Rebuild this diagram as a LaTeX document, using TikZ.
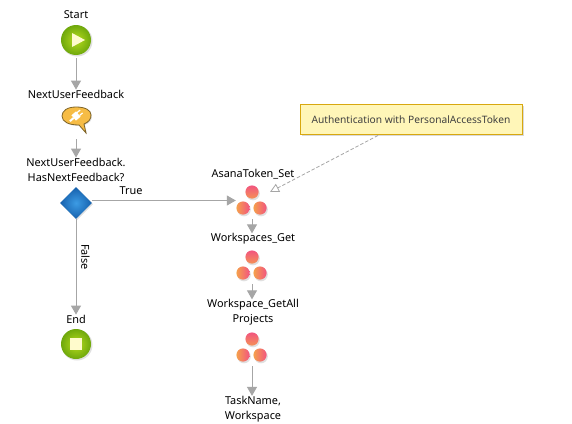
\documentclass[tikz,border=0pt]{standalone}
\usepackage{fontspec}
\setmainfont{Noto Sans}
\usetikzlibrary{arrows.meta,shapes.geometric,calc}
\definecolor{linegray}{HTML}{A6A6A6}
\definecolor{notefill}{HTML}{FFF6B8}
\definecolor{noteedge}{HTML}{D8A80F}
\definecolor{cream}{HTML}{FFFBCC}
\definecolor{pinkc}{HTML}{F2557F}
\definecolor{orangec}{HTML}{F5A04C}
\definecolor{greenin}{HTML}{B6DC1E}
\definecolor{greenout}{HTML}{6FA80C}
\definecolor{bluein}{HTML}{3C9BE4}
\definecolor{blueout}{HTML}{1660AC}
\definecolor{bubblefill}{HTML}{F6BC45}
\definecolor{bubbleedge}{HTML}{7E6428}
\tikzset{
  x=1pt,y=-1pt,
  lab/.style={font=\fontsize{10.9}{15}\selectfont,align=center,inner sep=0pt,text=black},
  flow/.style={draw=linegray,line width=1pt,-{Triangle[length=9pt,width=10pt]}},
  greenball/.style={circle,minimum size=30pt,inner sep=0pt,inner color=greenin,outer color=greenout},
  icon/.style={circle,minimum size=32pt,inner sep=0pt},
  note/.style={draw=noteedge,line width=1pt,fill=notefill,minimum width=222pt,minimum height=30pt,inner sep=0pt,font=\fontsize{10.2}{13}\selectfont,text=black!75},
}
\newcommand{\asanaicon}[3]{%
  \node[icon] (#1) at (#2,#3) {};
  \fill[black,opacity=.12] (#2+1,#3-9.5) circle (6.8pt) (#2-8,#3+6.5) circle (6.8pt) (#2+9,#3+6.5) circle (6.8pt);
  \shade[top color=pinkc,bottom color=orangec!80!pinkc] (#2,#3-11) circle (6.6pt);
  \shade[left color=orangec,right color=pinkc] (#2-9,#3+5) circle (6.6pt);
  \shade[left color=orangec,right color=pinkc] (#2+8,#3+5) circle (6.6pt);
}
\begin{document}
\begin{tikzpicture}
\useasboundingbox (0,0) rectangle (572,423);
\fill[white] (0,0) rectangle (572,423);
% left column
\node[lab] (lstart) at (76,14.5) {Start};
\fill[black,opacity=.12] (77,41) circle (15.5pt);
\node[greenball] (start) at (76,40) {};
\fill[cream] (72,33) -- (85,40) -- (72,47) -- cycle;
\node[lab] (lnuf) at (76,94) {NextUserFeedback};
% bubble
\node[inner sep=0pt,minimum width=29pt,minimum height=26pt] (nuf) at (76,120) {};
\fill[black,opacity=.12] (77,108) .. controls (68,108) and (63,112) .. (63,117) .. controls (63,123) and (70,126) .. (80,126) -- (87,134) -- (85,125) .. controls (90,123) and (92,120) .. (92,116) .. controls (92,111) and (86,108) .. (77,108) -- cycle;
\draw[draw=bubbleedge,line width=.8pt,fill=bubblefill] (76,107) .. controls (67,107) and (62,111) .. (62,116) .. controls (62,122) and (69,125) .. (79,125) -- (86,133) -- (84,124) .. controls (89,122) and (91,119) .. (91,115) .. controls (91,110) and (85,107) .. (76,107) -- cycle;
\begin{scope}[shift={(76,116)},rotate=40]
\fill[white] (-3,-3.5) rectangle (3,3.5);
\fill[white] (3,-2.5) rectangle (7,-1.3) (3,1.3) rectangle (7,2.5);
\fill[white] (-8,-1) rectangle (-3,1);
\end{scope}
\node[lab] (lhas) at (76,169.5) {NextUserFeedback.\\HasNextFeedback?};
\fill[black,opacity=.12] (77,188) -- (93,204) -- (77,220) -- (61,204) -- cycle;
\node[diamond,minimum width=32pt,minimum height=32pt,inner sep=0pt,inner color=bluein,outer color=blueout] (dec) at (76,203) {};
\node[lab] (lend) at (76,319) {End};
\fill[black,opacity=.12] (77,345) circle (15.5pt);
\node[greenball] (end) at (76,344) {};
\fill[cream] (70,338) rectangle (82,350);
% right column
\node[lab] (l1) at (253,174) {AsanaToken\_Set};
\asanaicon{a1}{252}{203}
\node[lab] (l2) at (253,239) {Workspaces\_Get};
\asanaicon{a2}{252}{268}
\node[lab] (l3) at (253,312.5) {Workspace\_GetAll\\Projects};
\asanaicon{a3}{252}{350}
\node[lab] (l4) at (253,409) {TaskName,\\Workspace};
% note
\fill[black,opacity=.15] (302,106) rectangle (524,136);
\node[note] (note) at (411,119.5) {Authentication with PersonalAccessToken};
\coordinate (nstart) at (378,135.5);
\coordinate (ntip) at (270,192);
% connectors
\draw[flow] (76,58) -- (lnuf.north -| start);
\draw[flow] (nuf.south -| start) ++(0,6) -- (lhas.north -| start);
\draw[flow] (dec.east |- 0,200.5) -- (a1.west |- 0,200.5);
\draw[flow] (dec.south) -- (lend.north -| dec);
\draw[flow] (a1.south) -- (l2.north -| a1);
\draw[flow] (a2.south) -- (l3.north -| a2);
\draw[flow] (a3.south) -- (l4.north -| a3);
\draw[draw=linegray,line width=.8pt,dash pattern=on 3.5pt off 2pt,-{Triangle[open,length=9pt,width=9pt]}] (nstart) -- (ntip);
\node[lab] (ltrue) at (131,190.5) {True};
\node[lab,rotate=-90] (lfalse) at (85.5,257) {False};
\end{tikzpicture}
\end{document}
